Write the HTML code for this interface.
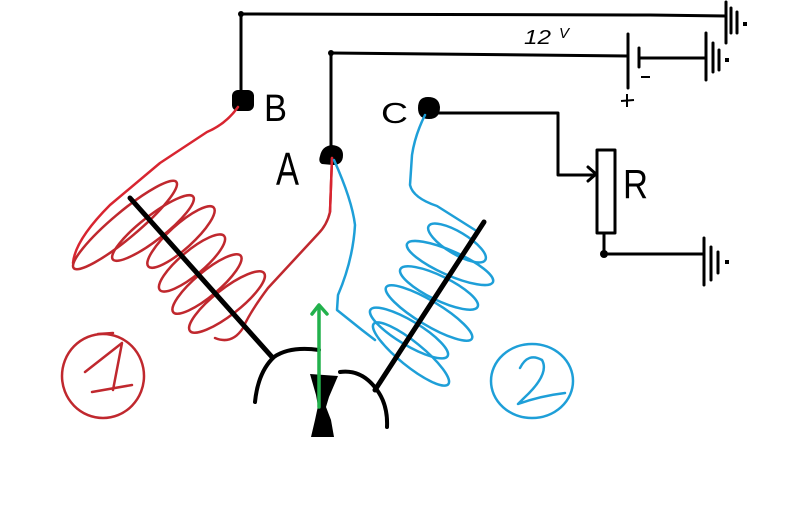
<!DOCTYPE html>
<html><head><meta charset="utf-8"><style>
html,body{margin:0;padding:0;background:#fff;}
svg{display:block;}
text{font-family:"Liberation Sans",sans-serif;fill:#000;}
</style></head><body>
<svg width="799" height="524" viewBox="0 0 799 524" xmlns="http://www.w3.org/2000/svg">
<rect width="799" height="524" fill="#fff"/>
<g fill="none" stroke="#000" stroke-width="3" stroke-linecap="round" stroke-linejoin="round">
  <!-- top line to ground 1 -->
  <path d="M241,14 L650,15 L726,16"/>
  <path d="M241,14 L241,96"/>
  <path d="M726,2 L726,43 M731,8 L731,33 M737,12 L737,33"/>
  <!-- A line to battery -->
  <path d="M331,53 L628,56"/>
  <path d="M331,53 L331,150"/>
  <path d="M628,34 L628,88 M639,48 L639,67"/>
  <path d="M639,58 L706,58"/>
  <path d="M706,33 L706,80 M713,43 L713,72 M719,50 L719,70"/>
  <!-- C to resistor -->
  <path d="M439,113 L558,113 L558,175 L596,175"/>
  <path d="M588,167 L596,174 L588,181"/>
  <rect x="597" y="150" width="18" height="83"/>
  <path d="M604,233 L604,254 L704,254"/>
  <path d="M704,238 L704,285 M711,247 L711,280 M718,252 L718,273"/>
</g>
<g fill="#000">
  <circle cx="241" cy="14" r="3"/>
  <circle cx="331" cy="53" r="3"/>
  <circle cx="604" cy="254" r="4"/>
  <rect x="743" y="22" width="4" height="4"/>
  <rect x="725" y="58" width="4" height="4"/>
  <rect x="725" y="260" width="4" height="4"/>
  <!-- terminals -->
  <rect x="232" y="90" width="22" height="21" rx="6"/>
  <path d="M320,156 Q322,146 332,145 Q343,146 343,155 Q343,165 333,165 L322,164 Q318,162 320,156 Z"/>
  <path d="M418,108 Q418,97 428,97 Q439,97 440,107 Q440,119 429,119 Q418,119 418,108 Z"/>
</g>
<!-- labels -->
<text x="264" y="121" font-size="38" textLength="23" lengthAdjust="spacingAndGlyphs">B</text>
<text x="276" y="185" font-size="46" textLength="23" lengthAdjust="spacingAndGlyphs">A</text>
<text x="381" y="123" font-size="29" textLength="27" lengthAdjust="spacingAndGlyphs">C</text>
<text x="623" y="198" font-size="41" textLength="25" lengthAdjust="spacingAndGlyphs">R</text>
<text x="524" y="44" font-size="20" font-style="italic" textLength="27" lengthAdjust="spacingAndGlyphs">12</text>
<text x="559" y="38" font-size="15" font-style="italic">V</text>
<g stroke="#000" stroke-width="2" fill="none">
  <path d="M621,101 L634,100 M627,94 L627,107"/>
  <path d="M641,77 L650,77"/>
</g>

<!-- red coil 1 -->
<g fill="none" stroke="#c0282e" stroke-width="2.5" stroke-linecap="round" stroke-linejoin="round">
  <path d="M238,107 Q226,124 207,132 L160,163 L110,205 Q75,240 73,263" stroke="#d82530"/>
  <ellipse cx="125" cy="225" rx="67" ry="13" transform="rotate(-40 125 225)"/>
  <ellipse cx="153" cy="228" rx="51" ry="12" transform="rotate(-38 153 228)"/>
  <ellipse cx="181" cy="237" rx="44" ry="12" transform="rotate(-42 181 237)"/>
  <ellipse cx="192" cy="263" rx="42" ry="12" transform="rotate(-40 192 263)"/>
  <ellipse cx="207" cy="284" rx="44" ry="12" transform="rotate(-40 207 284)"/>
  <ellipse cx="227" cy="302" rx="47" ry="13" transform="rotate(-38 227 302)"/>
  <path d="M332,158 L330,212 Q327,225 318,234 L268,288 Q250,312 243,328 Q232,345 215,338" />
  <path d="M332,158 L330,212" stroke="#d82530"/>
  <!-- circle 1 -->
  <ellipse cx="103" cy="376" rx="41" ry="42"/>
  <path d="M98,334 L113,333"/>
  <path d="M85,372 L122,343 L113,390 M92,392 L132,385"/>
</g>

<!-- blue coil 2 -->
<g fill="none" stroke="#1e9fd8" stroke-width="2.5" stroke-linecap="round" stroke-linejoin="round">
  <path d="M425,115 Q415,135 412,155 L410,185 Q413,198 437,206 L475,230"/>
  <ellipse cx="457" cy="243" rx="33" ry="11" transform="rotate(31 457 243)"/>
  <ellipse cx="450" cy="263" rx="47" ry="12" transform="rotate(24 450 263)"/>
  <ellipse cx="439" cy="288" rx="43" ry="12" transform="rotate(26 439 288)"/>
  <ellipse cx="429" cy="313" rx="50" ry="12" transform="rotate(31 429 313)"/>
  <ellipse cx="409" cy="333" rx="45" ry="12" transform="rotate(31 409 333)"/>
  <ellipse cx="411" cy="354" rx="48" ry="12" transform="rotate(39 411 354)"/>
  <path d="M334,160 Q352,200 355,225 Q353,260 338,295 L337,310 L362,330 L375,340"/>
  <!-- circle 2 -->
  <ellipse cx="532" cy="381" rx="41" ry="37"/>
  <path d="M520,368 Q528,352 542,360 Q550,374 524,398 L518,404 Q540,396 565,393"/>
</g>

<!-- cores and armature -->
<g fill="none" stroke="#000" stroke-linecap="round" stroke-linejoin="round">
  <path d="M130,198 L272,357" stroke-width="5"/>
  <path d="M484,222 L375,390" stroke-width="5"/>
  <path d="M255,402 Q258,372 274,357 Q290,346 319,350" stroke-width="4"/>
  <path d="M340,372 Q362,369 377,390 Q388,405 387,427" stroke-width="4"/>
</g>
<path d="M310,374 L338,376 L329,397 L326,407 L331,420 L334,437 L311,437 L315,420 L318,406 L316,395 Z" fill="#000"/>

<!-- green arrow -->
<g fill="none" stroke="#22b14c" stroke-width="3.5" stroke-linecap="round" stroke-linejoin="round">
  <path d="M319,407 L319,306"/>
  <path d="M312,314 L319,305 L327,314"/>
</g>
</svg>
</body></html>
